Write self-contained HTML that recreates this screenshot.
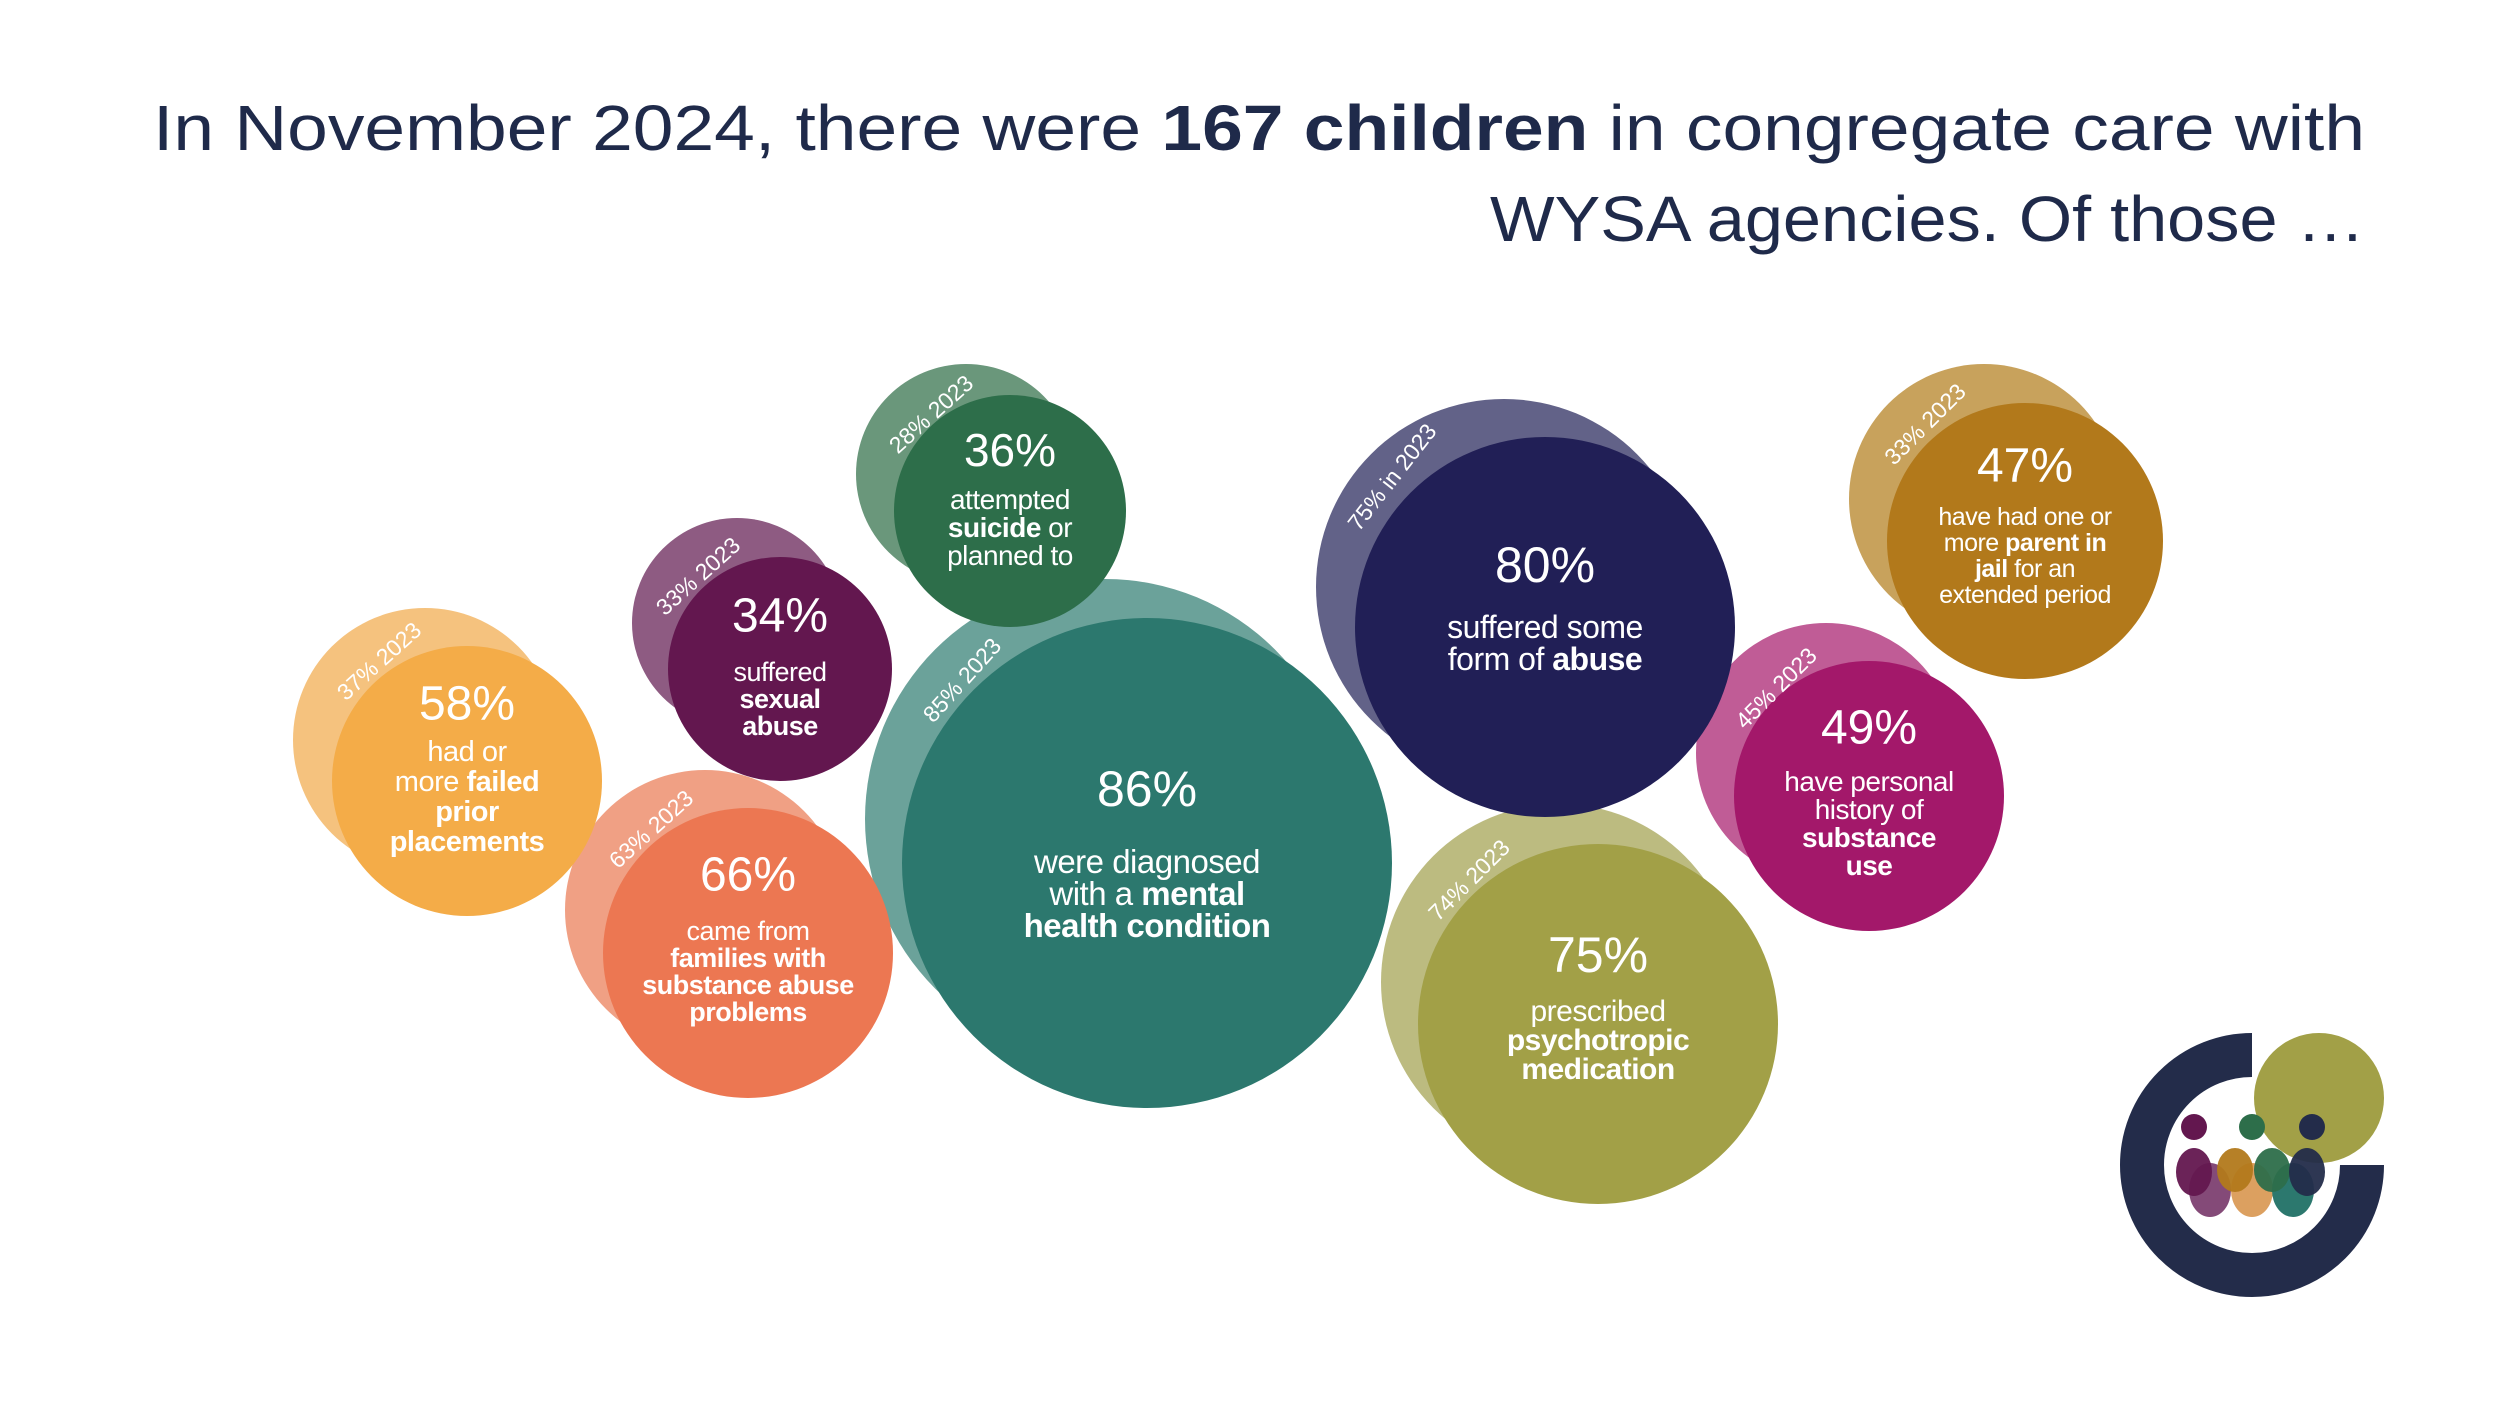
<!DOCTYPE html>
<html><head><meta charset="utf-8">
<style>
html,body{margin:0;padding:0;background:#fff;}
svg{display:block;font-family:"Liberation Sans",sans-serif;}
</style></head>
<body>
<svg id="chart" width="2500" height="1406" viewBox="0 0 2500 1406" xmlns="http://www.w3.org/2000/svg">
  <rect width="2500" height="1406" fill="#ffffff"/>
  <g fill="#1f2a4a" font-size="64" text-anchor="end">
    <text x="2365" y="150" textLength="2212" lengthAdjust="spacingAndGlyphs">In November 2024, there were <tspan font-weight="bold">167 children</tspan> in congregate care with</text>
    <text x="2365" y="241" textLength="875" lengthAdjust="spacingAndGlyphs">WYSA agencies. Of those …</text>
  </g>
  <g id="lights"></g>
  <g id="darks"></g>
  <g id="labels"></g>
  <g>
    <path d="M2252 1055 A110 110 0 1 0 2362 1165" fill="none" stroke="#232c4a" stroke-width="44"/>
    <circle cx="2319" cy="1098" r="65" fill="#a2a047"/>
    <circle cx="2194" cy="1127" r="13" fill="#63174f"/>
    <circle cx="2252" cy="1127" r="13" fill="#2d6e4a"/>
    <circle cx="2312" cy="1127" r="13" fill="#232c4a"/>
    <ellipse cx="2210" cy="1190" rx="21" ry="27" fill="#844a78"/>
    <ellipse cx="2252" cy="1190" rx="21" ry="27" fill="#dca060"/>
    <ellipse cx="2293" cy="1190" rx="21" ry="27" fill="#2c786e"/>
    <ellipse cx="2194" cy="1172" rx="18" ry="24" fill="#63174f" opacity="0.95"/>
    <ellipse cx="2235" cy="1170" rx="18" ry="22" fill="#b2791b" opacity="0.95"/>
    <ellipse cx="2272" cy="1170" rx="18" ry="22" fill="#2d6e4a" opacity="0.95"/>
    <ellipse cx="2307" cy="1172" rx="18" ry="24" fill="#232c4a" opacity="0.95"/>
  </g>
</svg>
<script>
// Data
const categories = ["failed-placements","sexual-abuse","suicide","mental-health","substance-family","abuse","psychotropic","substance-use","parent-jail"];
const values2024 = [58,34,36,86,66,80,75,49,47];
const values2023 = [37,33,28,85,63,75,74,45,33];
const label2023 = ["37% 2023","33% 2023","28% 2023","85% 2023","63% 2023","75% in 2023","74% 2023","45% 2023","33% 2023"];
const descriptions = [
  [[["had  or",0]],[["more ",0],["failed",1]],[["prior",1]],[["placements",1]]],
  [[["suffered",0]],[["sexual",1]],[["abuse",1]]],
  [[["attempted",0]],[["suicide",1],[" or",0]],[["planned to",0]]],
  [[["were diagnosed",0]],[["with a ",0],["mental",1]],[["health condition",1]]],
  [[["came from",0]],[["families with",1]],[["substance abuse",1]],[["problems",1]]],
  [[["suffered some",0]],[["form of ",0],["abuse",1]]],
  [[["prescribed",0]],[["psychotropic",1]],[["medication",1]]],
  [[["have personal",0]],[["history of",0]],[["substance",1]],[["use",1]]],
  [[["have had one or",0]],[["more ",0],["parent in",1]],[["jail",1],[" for an",0]],[["extended period",0]]]
];
// Layout (not data)
const layout = [
  {cx:467,cy:781,r:135,lx:425,ly:740,lr:132,c1:"#f5c27e",c2:"#f4ac48",py:704,ly0:752,lh:30,fs:29,pf:48,tx:379,ty:661,rot:-42},
  {cx:780,cy:669,r:112,lx:737,ly:623,lr:105,c1:"#8e5b82",c2:"#63174f",py:616,ly0:672,lh:27,fs:27,pf:48,tx:698,ty:576,rot:-42},
  {cx:1010,cy:511,r:116,lx:966,ly:474,lr:110,c1:"#6a977b",c2:"#2d6e4a",py:450,ly0:499,lh:28,fs:28,pf:46,tx:931,ty:414,rot:-42},
  {cx:1147,cy:863,r:245,lx:1105,ly:819,lr:240,c1:"#6ba29a",c2:"#2c786e",py:789,ly0:861,lh:32,fs:33,pf:50,tx:962,ty:680,rot:-48},
  {cx:748,cy:953,r:145,lx:705,ly:910,lr:140,c1:"#f0a084",c2:"#ec7752",py:875,ly0:931,lh:27,fs:27,pf:48,tx:651,ty:829,rot:-42},
  {cx:1545,cy:627,r:190,lx:1504,ly:587,lr:188,c1:"#626288",c2:"#211f56",py:565,ly0:627,lh:32,fs:32,pf:50,tx:1392,ty:477,rot:-52},
  {cx:1598,cy:1024,r:180,lx:1559,ly:982,lr:178,c1:"#bcbb80",c2:"#a2a047",py:955,ly0:1011,lh:29,fs:30,pf:50,tx:1469,ty:880,rot:-45},
  {cx:1869,cy:796,r:135,lx:1826,ly:753,lr:130,c1:"#c05c96",c2:"#a3186a",py:728,ly0:781,lh:28,fs:28,pf:48,tx:1776,ty:688,rot:-45},
  {cx:2025,cy:541,r:138,lx:1984,ly:499,lr:135,c1:"#c8a25c",c2:"#b2791b",py:466,ly0:517,lh:26,fs:25,pf:48,tx:1925,ty:424,rot:-45}
];
const NS="http://www.w3.org/2000/svg";
const lights=document.getElementById('lights'), darks=document.getElementById('darks'), labels=document.getElementById('labels');
function mk(t,a){const e=document.createElementNS(NS,t);for(const k in a)e.setAttribute(k,a[k]);return e;}
categories.forEach((cat,i)=>{
  const L=layout[i];
  const lc=mk('circle',{cx:L.lx,cy:L.ly,r:L.lr,fill:L.c1});
  
  
  lights.appendChild(lc);
  const dc=mk('circle',{cx:L.cx,cy:L.cy,r:L.r,fill:L.c2});
  
  
  darks.appendChild(dc);
  const p=mk('text',{x:L.cx,y:L.py,'font-size':L.pf,fill:'#fff','text-anchor':'middle','dominant-baseline':'central'});
  p.textContent=values2024[i]+'%';
  
  
  labels.appendChild(p);
  descriptions[i].forEach((line,j)=>{
    const t=mk('text',{x:L.cx,y:L.ly0+j*L.lh,'font-size':L.fs,fill:'#fff','text-anchor':'middle','dominant-baseline':'central','letter-spacing':'-0.5'});
    line.forEach(seg=>{const s=mk('tspan',{'font-weight':seg[1]?'bold':'normal'});s.textContent=seg[0];t.appendChild(s);});
    
    
    labels.appendChild(t);
  });
  const y=mk('text',{x:L.tx,y:L.ty,'font-size':23,fill:'#fff','text-anchor':'middle','dominant-baseline':'central',transform:'rotate('+L.rot+' '+L.tx+' '+L.ty+')'});
  y.textContent=label2023[i];
  
  
  labels.appendChild(y);
});
</script>
</body></html>
